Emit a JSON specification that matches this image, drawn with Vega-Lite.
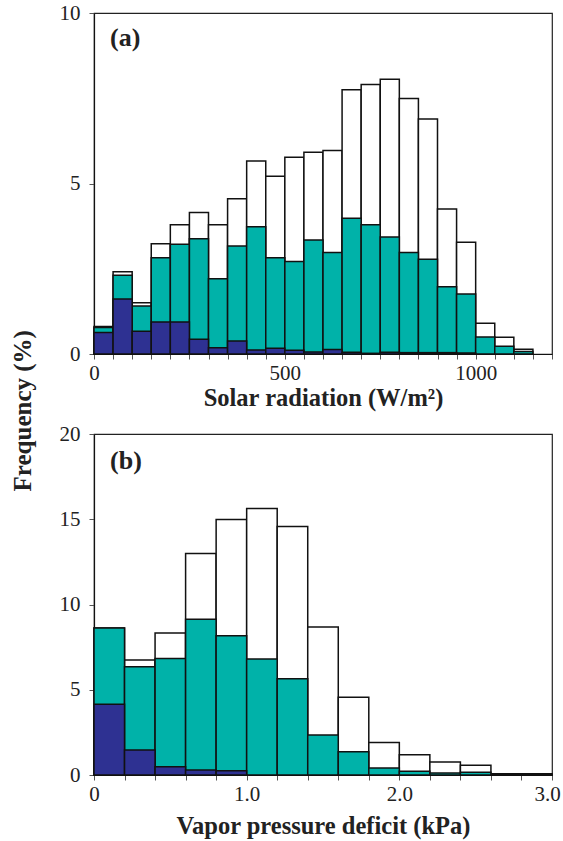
{
  "$schema": "https://vega.github.io/schema/vega-lite/v6.json",
  "padding": {"left": 11, "top": 1, "right": 0, "bottom": 4},
  "config": {
    "font": "Liberation Serif",
    "view": {"stroke": "#222", "strokeWidth": 1.2},
    "axis": {
      "grid": false,
      "labelFont": "Liberation Serif",
      "titleFont": "Liberation Serif",
      "labelFontSize": 21,
      "titleFontSize": 24.5,
      "titleFontWeight": "bold",
      "labelColor": "#222",
      "titleColor": "#222",
      "domainColor": "#111",
      "domainWidth": 1.2,
      "tickColor": "#555",
      "tickSize": 5
    }
  },
  "title": {
    "text": "Frequency (%)",
    "orient": "left",
    "anchor": "middle",
    "fontSize": 25,
    "font": "Liberation Serif",
    "fontWeight": "bold",
    "offset": 22,
    "dx": 9,
    "color": "#222"
  },
  "datasets": {
    "solar": [
      {"start": 0, "end": 50, "series": "all", "freq": 0.81},
      {"start": 50, "end": 100, "series": "all", "freq": 2.41},
      {"start": 100, "end": 150, "series": "all", "freq": 1.50},
      {"start": 150, "end": 200, "series": "all", "freq": 3.23},
      {"start": 200, "end": 250, "series": "all", "freq": 3.79},
      {"start": 250, "end": 300, "series": "all", "freq": 4.15},
      {"start": 300, "end": 350, "series": "all", "freq": 3.79},
      {"start": 350, "end": 400, "series": "all", "freq": 4.55},
      {"start": 400, "end": 450, "series": "all", "freq": 5.66},
      {"start": 450, "end": 500, "series": "all", "freq": 5.21},
      {"start": 500, "end": 550, "series": "all", "freq": 5.77},
      {"start": 550, "end": 600, "series": "all", "freq": 5.92},
      {"start": 600, "end": 650, "series": "all", "freq": 5.97},
      {"start": 650, "end": 700, "series": "all", "freq": 7.75},
      {"start": 700, "end": 750, "series": "all", "freq": 7.90},
      {"start": 750, "end": 800, "series": "all", "freq": 8.06},
      {"start": 800, "end": 850, "series": "all", "freq": 7.49},
      {"start": 850, "end": 900, "series": "all", "freq": 6.89},
      {"start": 900, "end": 950, "series": "all", "freq": 4.25},
      {"start": 950, "end": 1000, "series": "all", "freq": 3.28},
      {"start": 1000, "end": 1050, "series": "all", "freq": 0.90},
      {"start": 1050, "end": 1100, "series": "all", "freq": 0.49},
      {"start": 1100, "end": 1150, "series": "all", "freq": 0.14},
      {"start": 0, "end": 50, "series": "mid", "freq": 0.78},
      {"start": 50, "end": 100, "series": "mid", "freq": 2.31},
      {"start": 100, "end": 150, "series": "mid", "freq": 1.41},
      {"start": 150, "end": 200, "series": "mid", "freq": 2.82},
      {"start": 200, "end": 250, "series": "mid", "freq": 3.22},
      {"start": 250, "end": 300, "series": "mid", "freq": 3.38},
      {"start": 300, "end": 350, "series": "mid", "freq": 2.21},
      {"start": 350, "end": 400, "series": "mid", "freq": 3.17},
      {"start": 400, "end": 450, "series": "mid", "freq": 3.73},
      {"start": 450, "end": 500, "series": "mid", "freq": 2.82},
      {"start": 500, "end": 550, "series": "mid", "freq": 2.71},
      {"start": 550, "end": 600, "series": "mid", "freq": 3.34},
      {"start": 600, "end": 650, "series": "mid", "freq": 2.98},
      {"start": 650, "end": 700, "series": "mid", "freq": 3.98},
      {"start": 700, "end": 750, "series": "mid", "freq": 3.79},
      {"start": 750, "end": 800, "series": "mid", "freq": 3.43},
      {"start": 800, "end": 850, "series": "mid", "freq": 2.98},
      {"start": 850, "end": 900, "series": "mid", "freq": 2.78},
      {"start": 900, "end": 950, "series": "mid", "freq": 1.97},
      {"start": 950, "end": 1000, "series": "mid", "freq": 1.76},
      {"start": 1000, "end": 1050, "series": "mid", "freq": 0.50},
      {"start": 1050, "end": 1100, "series": "mid", "freq": 0.23},
      {"start": 1100, "end": 1150, "series": "mid", "freq": 0.07},
      {"start": 0, "end": 50, "series": "low", "freq": 0.63},
      {"start": 50, "end": 100, "series": "low", "freq": 1.61},
      {"start": 100, "end": 150, "series": "low", "freq": 0.67},
      {"start": 150, "end": 200, "series": "low", "freq": 0.94},
      {"start": 200, "end": 250, "series": "low", "freq": 0.94},
      {"start": 250, "end": 300, "series": "low", "freq": 0.43},
      {"start": 300, "end": 350, "series": "low", "freq": 0.18},
      {"start": 350, "end": 400, "series": "low", "freq": 0.38},
      {"start": 400, "end": 450, "series": "low", "freq": 0.12},
      {"start": 450, "end": 500, "series": "low", "freq": 0.17},
      {"start": 500, "end": 550, "series": "low", "freq": 0.11},
      {"start": 550, "end": 600, "series": "low", "freq": 0.06},
      {"start": 600, "end": 650, "series": "low", "freq": 0.13},
      {"start": 650, "end": 700, "series": "low", "freq": 0.05},
      {"start": 700, "end": 750, "series": "low", "freq": 0.02},
      {"start": 750, "end": 800, "series": "low", "freq": 0.05},
      {"start": 800, "end": 850, "series": "low", "freq": 0.04},
      {"start": 850, "end": 900, "series": "low", "freq": 0.04},
      {"start": 900, "end": 950, "series": "low", "freq": 0.04},
      {"start": 950, "end": 1000, "series": "low", "freq": 0.03}
    ],
    "vpd": [
      {"start": 0.0, "end": 0.2, "series": "all", "freq": 8.62},
      {"start": 0.2, "end": 0.4, "series": "all", "freq": 6.74},
      {"start": 0.4, "end": 0.6, "series": "all", "freq": 8.33},
      {"start": 0.6, "end": 0.8, "series": "all", "freq": 12.99},
      {"start": 0.8, "end": 1.0, "series": "all", "freq": 14.99},
      {"start": 1.0, "end": 1.2, "series": "all", "freq": 15.63},
      {"start": 1.2, "end": 1.4, "series": "all", "freq": 14.57},
      {"start": 1.4, "end": 1.6, "series": "all", "freq": 8.68},
      {"start": 1.6, "end": 1.8, "series": "all", "freq": 4.56},
      {"start": 1.8, "end": 2.0, "series": "all", "freq": 1.90},
      {"start": 2.0, "end": 2.2, "series": "all", "freq": 1.19},
      {"start": 2.2, "end": 2.4, "series": "all", "freq": 0.76},
      {"start": 2.4, "end": 2.6, "series": "all", "freq": 0.57},
      {"start": 2.6, "end": 2.8, "series": "all", "freq": 0.08},
      {"start": 2.8, "end": 3.0, "series": "all", "freq": 0.08},
      {"start": 0.0, "end": 0.2, "series": "mid", "freq": 8.62},
      {"start": 0.2, "end": 0.4, "series": "mid", "freq": 6.35},
      {"start": 0.4, "end": 0.6, "series": "mid", "freq": 6.84},
      {"start": 0.6, "end": 0.8, "series": "mid", "freq": 9.13},
      {"start": 0.8, "end": 1.0, "series": "mid", "freq": 8.17},
      {"start": 1.0, "end": 1.2, "series": "mid", "freq": 6.80},
      {"start": 1.2, "end": 1.4, "series": "mid", "freq": 5.64},
      {"start": 1.4, "end": 1.6, "series": "mid", "freq": 2.35},
      {"start": 1.6, "end": 1.8, "series": "mid", "freq": 1.37},
      {"start": 1.8, "end": 2.0, "series": "mid", "freq": 0.41},
      {"start": 2.0, "end": 2.2, "series": "mid", "freq": 0.22},
      {"start": 2.2, "end": 2.4, "series": "mid", "freq": 0.12},
      {"start": 2.4, "end": 2.6, "series": "mid", "freq": 0.16},
      {"start": 2.6, "end": 2.8, "series": "mid", "freq": 0.03},
      {"start": 2.8, "end": 3.0, "series": "mid", "freq": 0.03},
      {"start": 0.0, "end": 0.2, "series": "low", "freq": 4.15},
      {"start": 0.2, "end": 0.4, "series": "low", "freq": 1.47},
      {"start": 0.4, "end": 0.6, "series": "low", "freq": 0.49},
      {"start": 0.6, "end": 0.8, "series": "low", "freq": 0.29},
      {"start": 0.8, "end": 1.0, "series": "low", "freq": 0.25}
    ]
  },
  "spacing": 11,
  "vconcat": [
    {
      "width": 458,
      "height": 341,
      "layer": [
        {
          "data": {"name": "solar"},
          "mark": {"type": "bar", "stroke": "#111", "strokeWidth": 1.5},
          "encoding": {
            "x": {
              "field": "start", "type": "quantitative",
              "scale": {"domain": [0, 1200], "nice": false},
              "axis": {
                "values": [0, 50, 100, 150, 200, 250, 300, 350, 400, 450, 500, 550, 600, 650, 700, 750, 800, 850, 900, 950, 1000, 1050, 1100, 1150, 1200],
                "tickCount": 100,
                "labelExpr": "datum.value % 500 === 0 ? format(datum.value, 'd') : ''",
                "labelOverlap": false,
                "labelFlush": false,
                "title": "Solar radiation (W/m²)",
                "labelPadding": 3,
                "titlePadding": 3
              }
            },
            "x2": {"field": "end"},
            "y": {
              "field": "freq", "type": "quantitative", "stack": null,
              "scale": {"domain": [0, 10], "nice": false},
              "axis": {"values": [0, 5, 10], "tickCount": 100, "format": "d", "title": null, "labelPadding": 9, "labelOverlap": false}
            },
            "y2": {"datum": 0},
            "color": {
              "field": "series", "type": "nominal",
              "scale": {"domain": ["all", "mid", "low"], "range": ["#ffffff", "#00b2a9", "#2e3192"]},
              "legend": null
            }
          }
        },
        {
          "data": {"values": [{"label": "(a)"}]},
          "mark": {"type": "text", "align": "left", "baseline": "middle", "fontSize": 26, "fontWeight": "bold", "font": "Liberation Serif", "color": "#222"},
          "encoding": {
            "x": {"datum": 42, "type": "quantitative"},
            "y": {"datum": 9.27, "type": "quantitative"},
            "text": {"field": "label"}
          }
        }
      ]
    },
    {
      "width": 458,
      "height": 341,
      "layer": [
        {
          "data": {"name": "vpd"},
          "mark": {"type": "bar", "stroke": "#111", "strokeWidth": 1.5},
          "encoding": {
            "x": {
              "field": "start", "type": "quantitative",
              "scale": {"domain": [0, 3], "nice": false},
              "axis": {
                "values": [0, 0.2, 0.4, 0.6, 0.8, 1.0, 1.2, 1.4, 1.6, 1.8, 2.0, 2.2, 2.4, 2.6, 2.8, 3.0],
                "tickCount": 100,
                "labelExpr": "datum.value === 0 ? '0' : (abs(datum.value - round(datum.value)) < 0.000001 ? format(datum.value, '.1f') : '')",
                "labelOverlap": false,
                "labelFlush": false,
                "labelOffset": {"condition": {"test": "datum.value > 2.9", "value": -5}, "value": 0},
                "title": "Vapor pressure deficit (kPa)",
                "labelPadding": 3,
                "titlePadding": 10
              }
            },
            "x2": {"field": "end"},
            "y": {
              "field": "freq", "type": "quantitative", "stack": null,
              "scale": {"domain": [0, 20], "nice": false},
              "axis": {"values": [0, 5, 10, 15, 20], "tickCount": 100, "format": "d", "title": null, "labelPadding": 9, "labelOverlap": false}
            },
            "y2": {"datum": 0},
            "color": {
              "field": "series", "type": "nominal",
              "scale": {"domain": ["all", "mid", "low"], "range": ["#ffffff", "#00b2a9", "#2e3192"]},
              "legend": null
            }
          }
        },
        {
          "data": {"values": [{"label": "(b)"}]},
          "mark": {"type": "text", "align": "left", "baseline": "middle", "fontSize": 26, "fontWeight": "bold", "font": "Liberation Serif", "color": "#222"},
          "encoding": {
            "x": {"datum": 0.105, "type": "quantitative"},
            "y": {"datum": 18.4, "type": "quantitative"},
            "text": {"field": "label"}
          }
        }
      ]
    }
  ]
}
